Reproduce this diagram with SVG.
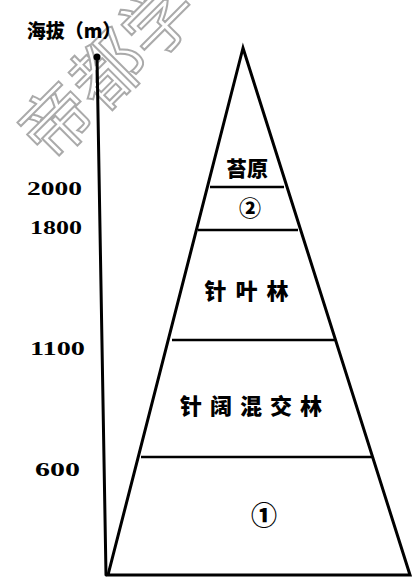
<svg xmlns="http://www.w3.org/2000/svg" width="412" height="578" viewBox="0 0 412 578">
<style>
.ln{stroke:#000;stroke-width:3;fill:none;stroke-linecap:round}
.zl{stroke:#000;stroke-width:2.5;fill:none}
.lab{font-family:"Noto Sans CJK SC","Noto Sans",sans-serif;font-weight:900;fill:#000;text-anchor:middle}
.num{font-family:"Liberation Serif",serif;font-weight:bold;fill:#000;font-size:18px}
.wm{font-family:"Noto Sans CJK SC",sans-serif;font-size:72px;fill:#fff;stroke:#aaa;stroke-width:2;fill-opacity:0}
</style>
<rect width="412" height="578" fill="#fff"/>
<g id="watermark">
<text class="wm" transform="translate(50,165) rotate(-45)">帝都学</text>
</g>
<g id="axis">
<line class="ln" x1="97" y1="56" x2="106" y2="575"/>
<circle cx="97" cy="57" r="3.5" fill="#000"/>
<text class="lab" x="74" y="38" font-size="19">海拔（m）</text>
<text class="num" x="27" y="195" textLength="55" lengthAdjust="spacingAndGlyphs">2000</text>
<text class="num" x="30" y="234" textLength="52" lengthAdjust="spacingAndGlyphs">1800</text>
<text class="num" x="30" y="355" textLength="55" lengthAdjust="spacingAndGlyphs">1100</text>
<text class="num" x="35" y="476" textLength="45" lengthAdjust="spacingAndGlyphs">600</text>
</g>
<g id="connectors">
<polygon class="ln" points="243,48 108,575 410,575"/>
<line class="zl" x1="210" y1="187" x2="284" y2="187" stroke-width="1.5"/>
<line class="zl" x1="198" y1="230" x2="298" y2="230"/>
<line class="zl" x1="172" y1="340" x2="335" y2="340"/>
<line class="zl" x1="141" y1="457" x2="373" y2="457"/>
</g>
<g id="zone-tundra"><text class="lab" x="247" y="176" font-size="21">苔原</text></g>
<g id="zone-2"><text class="lab" x="250" y="216" font-size="22">②</text></g>
<g id="zone-conifer"><text class="lab" x="251" y="299" font-size="22" letter-spacing="9">针叶林</text></g>
<g id="zone-mixed"><text class="lab" x="255" y="414" font-size="22" letter-spacing="8">针阔混交林</text></g>
<g id="zone-1"><text class="lab" x="264" y="525" font-size="26">①</text></g>
</svg>
